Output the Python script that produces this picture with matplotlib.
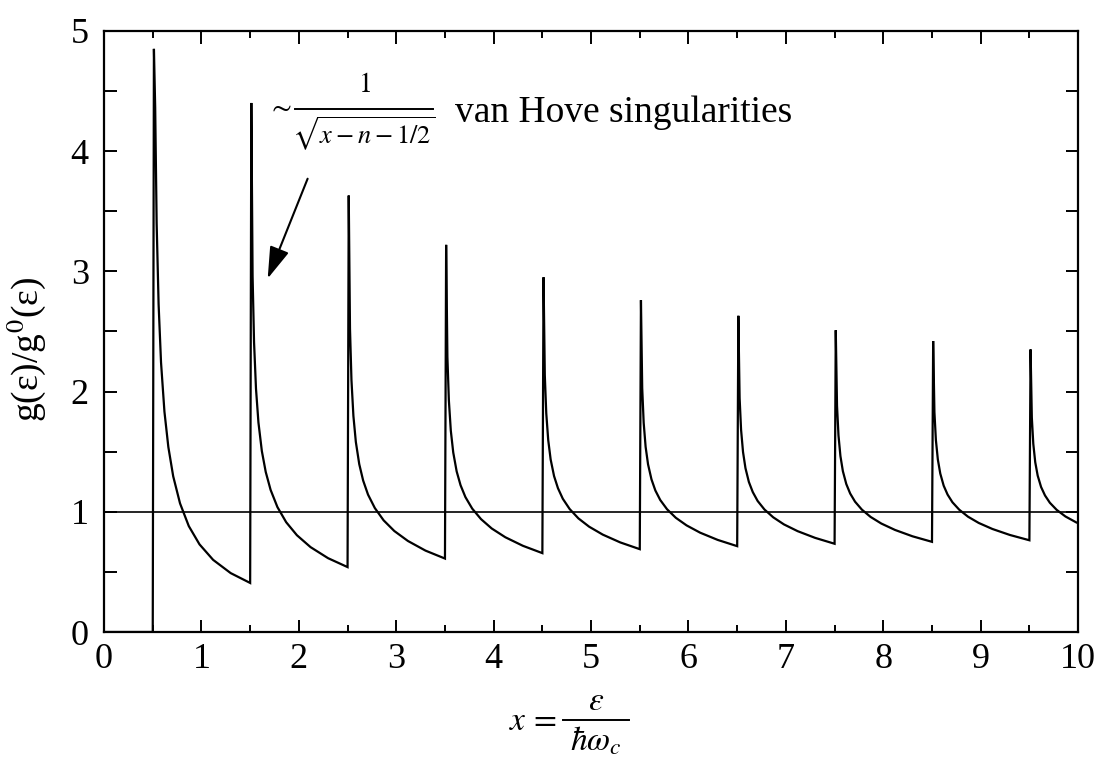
import numpy as np
import matplotlib.pyplot as plt
from matplotlib.lines import Line2D
from matplotlib.ticker import MultipleLocator

# Landau levels x = n + 1/2 and the heights of the drawn spikes
levels = [0.5, 1.5, 2.5, 3.5, 4.5, 5.5, 6.5, 7.5, 8.5, 9.5]
peak_heights = [4.85, 4.40, 3.63, 3.22, 2.95, 2.76, 2.63, 2.51, 2.42, 2.35]

offsets = [0.025, 0.04, 0.06, 0.085, 0.12, 0.16, 0.21, 0.28, 0.37, 0.48, 0.62, 0.8, 1.0]
decay_values = [
    [4.364, 3.40, 2.728, 2.242, 1.833, 1.539, 1.295, 1.070, 0.881, 0.729, 0.600, 0.490, 0.408],
    [2.961, 2.410, 2.023, 1.743, 1.505, 1.331, 1.182, 1.039, 0.913, 0.805, 0.706, 0.614, 0.540],
    [2.522, 2.096, 1.797, 1.581, 1.396, 1.260, 1.143, 1.031, 0.929, 0.840, 0.757, 0.677, 0.611],
    [2.288, 1.928, 1.675, 1.493, 1.336, 1.221, 1.122, 1.026, 0.939, 0.861, 0.788, 0.717, 0.656],
    [2.136, 1.819, 1.597, 1.435, 1.297, 1.196, 1.108, 1.023, 0.945, 0.876, 0.810, 0.745, 0.689],
    [2.028, 1.741, 1.540, 1.394, 1.270, 1.177, 1.098, 1.021, 0.950, 0.887, 0.826, 0.766, 0.714],
    [1.946, 1.682, 1.497, 1.363, 1.248, 1.164, 1.090, 1.019, 0.954, 0.895, 0.839, 0.783, 0.734],
    [1.881, 1.635, 1.463, 1.338, 1.231, 1.152, 1.084, 1.018, 0.957, 0.902, 0.849, 0.796, 0.750],
    [1.828, 1.597, 1.435, 1.318, 1.217, 1.143, 1.079, 1.017, 0.959, 0.907, 0.857, 0.807, 0.763],
    [1.783, 1.565, 1.412, 1.301, 1.206, 1.136, 1.075, 1.016, 0.961, 0.912, 0.865],
]
peak_offset = 0.012

plt.rcParams['font.family'] = ['Liberation Serif', 'DejaVu Serif']
plt.rcParams['mathtext.fontset'] = 'stix'

# juntar los tramos en una sola curva
xs = [0.0, levels[0]]
ys = [0.0, 0.0]
for lev, pk, vals in zip(levels, peak_heights, decay_values):
    xs.append(lev + peak_offset)
    ys.append(pk)
    for d, v in zip(offsets, vals):
        xs.append(lev + d)
        ys.append(v)

W, H = 1101, 761
fig = plt.figure(figsize=(W / 100, H / 100), dpi=100)
ax = fig.add_axes([0.0945, 0.1695, 0.8847, 0.790])

ax.plot(xs, ys, color='black', lw=1.6, solid_joinstyle='miter')
ax.plot([0, 10], [1, 1], color='black', lw=1.2)

ax.set_xlim(0, 10)
ax.set_ylim(0, 5)
ax.xaxis.set_major_locator(MultipleLocator(1))
ax.xaxis.set_minor_locator(MultipleLocator(0.5))
ax.yaxis.set_major_locator(MultipleLocator(1))
ax.yaxis.set_minor_locator(MultipleLocator(0.5))
ax.tick_params(which='both', direction='in', top=True, right=True, width=1.4)
ax.tick_params(axis='x', which='major', length=9, pad=8, labelsize=26)
ax.tick_params(axis='x', which='minor', length=5)
ax.tick_params(axis='y', which='major', length=9, pad=11, labelsize=26)
ax.tick_params(axis='y', which='minor', length=9)
for s in ax.spines.values():
    s.set_linewidth(1.6)

ax.set_ylabel('g(ε)/g$^0$(ε)', fontsize=27, labelpad=12)
ax.yaxis.set_label_coords(-0.058, 0.47)


def ftext(px, py, s, **kw):
    # texto colocado en pixeles de la figura
    fig.text(px / W, 1 - py / H, s, **kw)


def fbar(px0, px1, py):
    fig.add_artist(Line2D([px0 / W, px1 / W], [1 - py / H, 1 - py / H],
                          color='black', lw=1.4))


# etiqueta del eje x: x = ε / ħω_c
ftext(557, 722, r'$x\,=$', ha='right', va='center', fontsize=24)
ftext(596, 702, r'$\varepsilon$', ha='center', va='center', fontsize=24)
ftext(596, 741, r'$\hbar\omega_c$', ha='center', va='center', fontsize=24)
fbar(563, 629, 720)

# ~ 1/sqrt(x - n - 1/2)
ftext(279, 108, r'$\sim$', ha='center', va='center', fontsize=21)
ftext(364, 85, r'$1$', ha='center', va='center', fontsize=20)
ftext(364, 134, r'$\sqrt{x-n-1/2}$', ha='center', va='center', fontsize=19)
fbar(295, 433, 109)

ax.text(3.6, 4.32, 'van Hove singularities', fontsize=27, va='center', ha='left')
ax.annotate('', xy=(1.68, 2.94), xytext=(2.09, 3.77),
            arrowprops=dict(arrowstyle='-|>,head_length=0.7,head_width=0.22',
                            color='black', lw=1.5,
                            mutation_scale=28, shrinkA=0, shrinkB=0))

fig.savefig('out.png', dpi=100)
